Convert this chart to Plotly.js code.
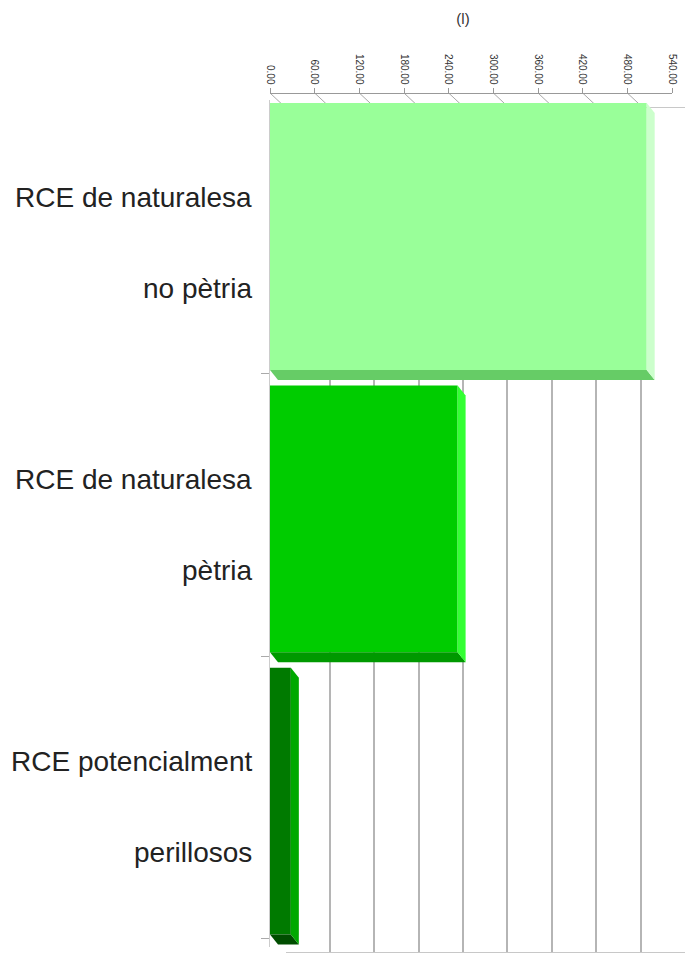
<!DOCTYPE html>
<html>
<head>
<meta charset="utf-8">
<script src="https://cdn.plot.ly/plotly-3.0.1.min.js"></script>
<style>html,body{margin:0;padding:0;background:#fff;}#chart{width:690px;height:955px;}</style>
</head>
<body>
<div id="chart"></div>
<script>
// ---- data ----
const labelLine1 = ["RCE de naturalesa", "RCE de naturalesa", "RCE potencialment"];
const labelLine2 = ["no pètria", "pètria", "perillosos"];
const values = [506, 252, 28];
const tickValues = [0, 60, 120, 180, 240, 300, 360, 420, 480, 540];
const frontColors = ["#99FF99", "#00CC00", "#007A00"];
const sideColors  = ["#CCFFCC", "#33FF33", "#00A800"];
const bottomColors = ["#66CC66", "#009900", "#004D00"];
const axisTitle = "(l)";

// ---- layout helpers (pixels -> paper fractions) ----
const W = 690, H = 955;
const px = v => v / W;
const py = v => 1 - v / H;

const pos = values.map((_, i) => i);
const barOffset = -0.489, barWidth = 0.945;
const unitsPerPxX = 540 / (672 - 270);
const dxU = 8 * unitsPerPxX;          // depth in x data units
const dyU = 10 / ((947 - 100) / 3);   // depth in y data units

const shapes = [];
values.forEach((v, i) => {
  const yt = i + barOffset, yb = i + barOffset + barWidth;
  // bottom face
  shapes.push({type: 'path', xref: 'x2', yref: 'y2', line: {width: 0},
    fillcolor: bottomColors[i],
    path: `M 0,${yb} L ${v},${yb} L ${v + dxU},${yb + dyU} L ${dxU},${yb + dyU} Z`});
  // side face
  shapes.push({type: 'path', xref: 'x2', yref: 'y2', line: {width: 0},
    fillcolor: sideColors[i],
    path: `M ${v},${yt} L ${v + dxU},${yt + dyU} L ${v + dxU},${yb + dyU} L ${v},${yb} Z`});
});
// slanted depth lines from the top axis ticks to the back wall
const wallShiftU = 16 * unitsPerPxX;
tickValues.forEach(t => {
  shapes.push({type: 'line', xref: 'x2', yref: 'paper', layer: 'below',
    x0: t, y0: py(93), x1: t + wallShiftU, y1: py(108),
    line: {color: '#a8a8a8', width: 1}});
});

const annotations = [];
pos.forEach(i => {
  annotations.push({xref: 'paper', yref: 'y2', x: px(254), y: i, xanchor: 'right', yanchor: 'middle',
    yshift: 44, showarrow: false, text: labelLine1[i],
    font: {family: 'Liberation Sans, Arial, sans-serif', size: 28, color: '#222'}});
  annotations.push({xref: 'paper', yref: 'y2', x: px(254), y: i, xanchor: 'right', yanchor: 'middle',
    yshift: -47, showarrow: false, text: labelLine2[i],
    font: {family: 'Liberation Sans, Arial, sans-serif', size: 28, color: '#222'}});
});

const traces = [
  {type: 'scatter', x: [], y: [], xaxis: 'x', yaxis: 'y', hoverinfo: 'skip', showlegend: false},
  {type: 'bar', orientation: 'h', x: values, y: pos, xaxis: 'x2', yaxis: 'y2',
   width: barWidth, offset: barOffset,
   marker: {color: frontColors, line: {width: 0}}, showlegend: false, hoverinfo: 'x'}
];

const layout = {
  width: W, height: H,
  margin: {l: 0, r: 0, t: 0, b: 0},
  paper_bgcolor: '#fff', plot_bgcolor: 'rgba(0,0,0,0)',
  showlegend: false,
  title: {text: axisTitle, x: px(463), xanchor: 'center', y: py(19), yanchor: 'middle',
          font: {family: 'Liberation Sans, Arial, sans-serif', size: 15, color: '#333'}},
  // back wall grid
  xaxis: {domain: [px(285.6), px(685)], range: [0, 540], tickvals: tickValues,
          showgrid: true, gridcolor: '#b5b5b5', gridwidth: 2,
          showticklabels: false, ticks: '', zeroline: false,
          showline: true, mirror: true, linecolor: '#c8c8c8', linewidth: 1, anchor: 'y'},
  yaxis: {domain: [py(952), py(108)], range: [0, 1], showgrid: false, zeroline: false,
          showticklabels: false, ticks: '', showline: false, anchor: 'x'},
  // bars + front axis
  xaxis2: {domain: [px(270), px(672)], range: [0, 540], tickvals: tickValues, tickformat: '.2f',
           side: 'top', anchor: 'free', position: py(93), tickangle: 90,
           ticks: 'outside', ticklen: 5, tickcolor: '#999',
           tickfont: {family: 'Liberation Sans, Arial, sans-serif', size: 10, color: '#333'},
           showgrid: false, zeroline: false, showline: true, linecolor: '#999', linewidth: 1},
  yaxis2: {domain: [py(947), py(100)], range: [2.5, -0.5], anchor: 'x2',
           tickvals: [0.47, 1.47, 2.47], ticks: 'outside', ticklen: 8, tickcolor: '#aaa',
           showticklabels: false, showgrid: false, zeroline: false,
           showline: true, linecolor: '#ccc', linewidth: 1},
  shapes: shapes,
  annotations: annotations
};

Plotly.newPlot('chart', traces, layout, {displayModeBar: false, staticPlot: true});
</script>
</body>
</html>
